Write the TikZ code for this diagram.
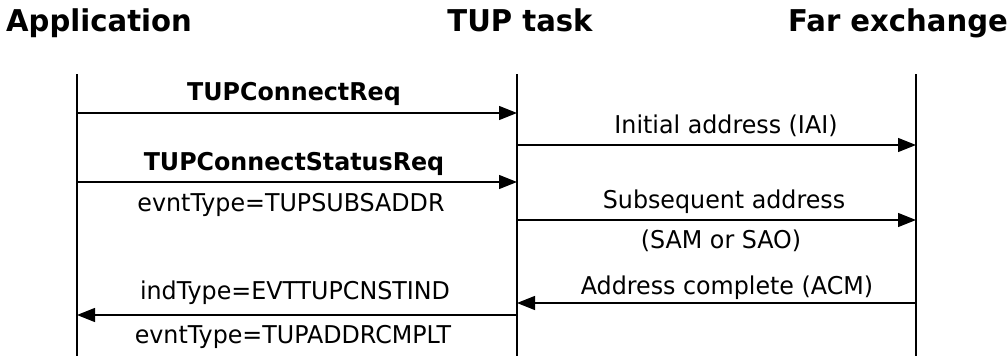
\documentclass[tikz,border=0pt]{standalone}
\usepackage{fontspec}
\setmainfont{DejaVu Sans}[FakeStretch=0.97]
\usetikzlibrary{arrows.meta}
\begin{document}
\begin{tikzpicture}[x=1pt,y=-1pt,
  lifeline/.style={line width=1.4pt},
  msg/.style={line width=1.4pt,-{Triangle[length=18pt,width=14pt]}},
  lbl/.style={font=\fontsize{24.5}{26}\selectfont, inner sep=0pt, anchor=base},
  blbl/.style={font=\fontsize{24.5}{26}\selectfont\bfseries, inner sep=0pt, anchor=base},
  hdr/.style={font=\fontsize{30}{34}\selectfont\bfseries, inner sep=0pt, anchor=base}]
\useasboundingbox (0,0) rectangle (1008,356);
% headers
\node[hdr] (happ) at (99,31) {Application};
\node[hdr] (htup) at (520,31) {TUP task};
\node[hdr] (hfar) at (898,31) {Far exchange};
% lifelines
\coordinate (atop) at (77,74);  \coordinate (abot) at (77,356);
\coordinate (ttop) at (517,74); \coordinate (tbot) at (517,356);
\coordinate (ftop) at (916,74); \coordinate (fbot) at (916,356);
\draw[lifeline] (atop) -- (abot);
\draw[lifeline] (ttop) -- (tbot);
\draw[lifeline] (ftop) -- (fbot);
% message points
\coordinate (a1) at (77,113);  \coordinate (t1) at (517,113);
\coordinate (t2) at (517,145); \coordinate (f2) at (916,145);
\coordinate (a3) at (77,182);  \coordinate (t3) at (517,182);
\coordinate (t4) at (517,220); \coordinate (f4) at (916,220);
\coordinate (f5) at (916,303); \coordinate (t5) at (517,303);
\coordinate (t6) at (517,315); \coordinate (a6) at (77,315);
% messages
\draw[msg] (a1) -- (t1);
\draw[msg] (t2) -- (f2);
\draw[msg] (a3) -- (t3);
\draw[msg] (t4) -- (f4);
\draw[msg] (f5) -- (t5);
\draw[msg] (t6) -- (a6);
% labels
\node[blbl] (l1) at (294,100) {TUPConnectReq};
\node[lbl] (l2) at (726,133) {Initial address (IAI)};
\node[blbl] (l3) at (294,170) {TUPConnectStatusReq};
\node[lbl] (l4) at (291,211) {evntType=TUPSUBSADDR};
\node[lbl] (l5) at (724,208) {Subsequent address};
\node[lbl] (l6) at (721,248) {(SAM or SAO)};
\node[lbl] (l7) at (727,294) {Address complete (ACM)};
\node[lbl] (l8) at (295,299) {indType=EVTTUPCNSTIND};
\node[lbl] (l9) at (293,343) {evntType=TUPADDRCMPLT};
\end{tikzpicture}
\end{document}
